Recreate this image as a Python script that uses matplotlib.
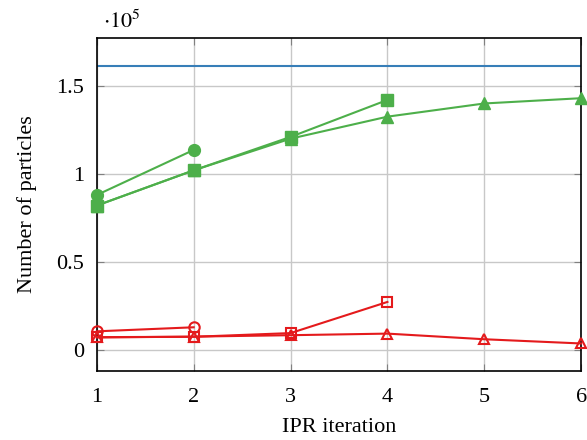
import numpy as np
import matplotlib.pyplot as plt

# values in units of 1e5 particles
iterations = [1, 2, 3, 4, 5, 6]
total_particles = 1.614

green_circle = [0.88, 1.136]
green_square = [0.82, 1.02, 1.21, 1.42]
green_triangle = [0.82, 1.02, 1.20, 1.325, 1.40, 1.43]

red_circle = [0.105, 0.128]
red_square = [0.072, 0.074, 0.095, 0.272]
red_triangle = [0.070, 0.075, 0.083, 0.092, 0.060, 0.036]

plt.rcParams['font.family'] = ['Liberation Serif', 'DejaVu Serif']
plt.rcParams['mathtext.fontset'] = 'stix'

green = '#4daf4a'
red = '#e41a1c'
blue = '#377eb8'

fig = plt.figure(figsize=(5.87, 4.40), dpi=100)
ax = fig.add_axes([0.165, 0.157, 0.825, 0.757])

ax.axhline(total_particles, color=blue, lw=1.5)

kw = dict(lw=1.5, clip_on=False, zorder=3)
ax.plot(iterations[:2], green_circle, color=green, marker='o', ms=8.5, **kw)
ax.plot(iterations[:4], green_square, color=green, marker='s', ms=8, **kw)
ax.plot(iterations, green_triangle, color=green, marker='^', ms=8.5, **kw)

ax.plot(iterations[:2], red_circle, color=red, marker='o', ms=7.5,
        mfc='none', mew=1.5, **kw)
ax.plot(iterations[:4], red_square, color=red, marker='s', ms=7,
        mfc='none', mew=1.5, **kw)
ax.plot(iterations, red_triangle, color=red, marker='^', ms=7.5,
        mfc='none', mew=1.5, **kw)

ax.set_xlim(1, 6)
ax.set_ylim(-0.12, 1.773)
ax.set_xticks(iterations)
ax.set_yticks([0, 0.5, 1, 1.5])
ax.set_yticklabels(['0', '0.5', '1', '1.5'])
ax.grid(True, color='#c8c8c8', lw=1)
ax.set_axisbelow(True)
ax.tick_params(direction='in', top=True, right=True, length=5, color='#808080',
               labelsize=16, pad=9)
ax.tick_params(axis='x', pad=12)
for s in ax.spines.values():
    s.set_linewidth(1.2)

ax.set_xlabel('IPR iteration', fontsize=16, labelpad=8)
ax.set_ylabel('Number of particles', fontsize=16, labelpad=14)
fig.text(0.175, 0.95, r'$\cdot 10^5$', fontsize=16, ha='left', va='center')

fig.savefig('out.png', dpi=100)
